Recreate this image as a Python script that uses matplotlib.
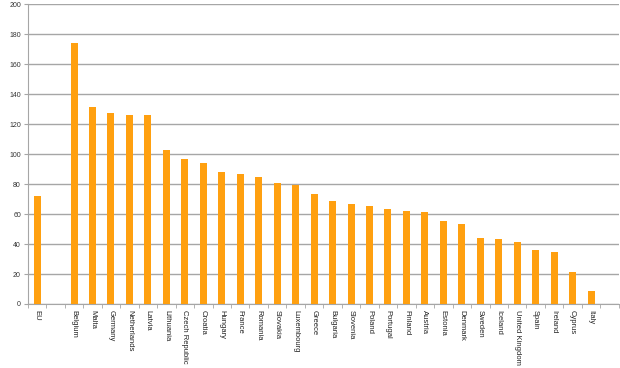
import matplotlib
matplotlib.use('Agg')
import matplotlib.pyplot as plt
import numpy as np

plt.rcParams['font.family'] = ['Liberation Sans', 'DejaVu Sans']

# categories incl. empty slots after EU and at the end
countries = ['EU', '', 'Belgium', 'Malta', 'Germany', 'Netherlands', 'Latvia', 'Lithuania',
             'Czech Republic', 'Croatia', 'Hungary', 'France', 'Romania', 'Slovakia',
             'Luxembourg', 'Greece', 'Bulgaria', 'Slovenia', 'Poland', 'Portugal', 'Finland',
             'Austria', 'Estonia', 'Denmark', 'Sweden', 'Iceland', 'United Kingdom', 'Spain',
             'Ireland', 'Cyprus', 'Italy', '']
values = [72, 0, 174, 131.7, 127.2, 126.3, 125.9, 102.8,
          96.5, 93.9, 88.3, 86.5, 84.7, 80.7,
          79.2, 73.2, 68.7, 66.7, 65.2, 63.4, 61.9,
          61.2, 55.6, 53.4, 44.3, 43.6, 41.4, 35.8,
          34.5, 21.6, 8.9, 0]
yticks = list(range(0, 201, 20))

fig = plt.figure(figsize=(6.2, 3.68), dpi=100)
ax = fig.add_axes([0.045, 0.174, 0.953, 0.814])

x = np.arange(len(countries))
ax.bar(x, values, width=0.38, color='#FFA010', zorder=3)

ax.set_xlim(-0.5, len(countries) - 0.5)
ax.set_ylim(0, 200)
ax.set_yticks(yticks)
ax.set_yticklabels([str(t) for t in yticks], fontsize=5, color='#333333')
ax.yaxis.grid(True, color='#a6a6a6', linewidth=1.0, zorder=0)

ax.set_xticks(x)
ax.set_xticklabels(countries, rotation=270, fontsize=5.5, color='#222222')
ax.tick_params(axis='x', length=0, pad=4)
ax.set_xticks(np.arange(-0.5, len(countries), 1), minor=True)
ax.tick_params(axis='x', which='minor', length=3, color='#a6a6a6')
ax.tick_params(axis='y', length=3, color='#a6a6a6', pad=2)

for s in ['top', 'right']:
    ax.spines[s].set_visible(False)
for s in ['left', 'bottom']:
    ax.spines[s].set_color('#a6a6a6')

plt.savefig('out.png')
plt.close()
